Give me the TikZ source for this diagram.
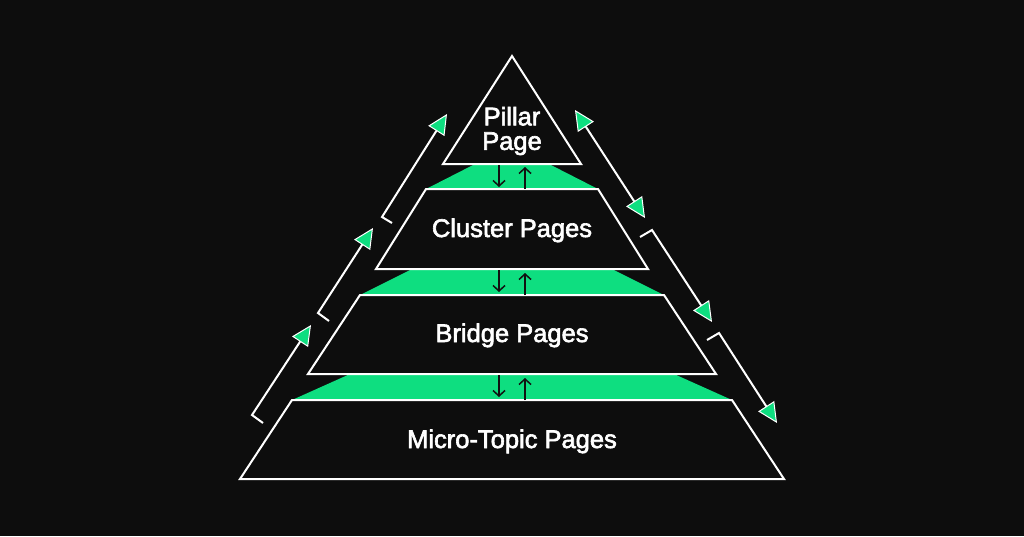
\documentclass[tikz,border=0pt]{standalone}
\usepackage{fontspec}
\setmainfont{Liberation Sans}[FakeBold=2.4]
\usetikzlibrary{arrows.meta}
\definecolor{bg}{RGB}{13,13,13}
\definecolor{grn}{RGB}{14,222,128}
\definecolor{ink}{RGB}{17,17,17}
\tikzset{gtip/.tip={Triangle[length=20pt,width=19pt,fill=grn,line width=1pt]}}
\begin{document}
\begin{tikzpicture}[x=1pt,y=-1pt,
  layer/.style={draw=white,line width=2pt,fill=bg,line join=miter},
  band/.style={fill=grn},
  lbl/.style={text=white,font=\fontsize{25.5}{24.5}\selectfont,align=center,inner sep=0pt},
  flow/.style={draw=white,line width=2pt,line join=miter},
  link/.style={draw=ink,line width=1.5pt,-{Straight Barb[length=5.5pt,width=12pt]}}]
\fill[bg] (0,0) rectangle (1024,536);
\useasboundingbox (0,0) rectangle (1024,536);
% green bands
\fill[band] (475,164) -- (549,164) -- (598,189) -- (426,189) -- cycle;
\fill[band] (412,269) -- (612,269) -- (664,295) -- (360,295) -- cycle;
\fill[band] (350,374) -- (674,374) -- (732,400) -- (292,400) -- cycle;
% layers
\draw[layer] (512,56) -- (581,164) -- (443,164) -- cycle;
\draw[layer] (426,189) -- (598,189) -- (648,269) -- (376,269) -- cycle;
\draw[layer] (360,295) -- (664,295) -- (716,374) -- (308,374) -- cycle;
\draw[layer] (292,400) -- (732,400) -- (784,479) -- (240,479) -- cycle;
% labels
\node[lbl] (pillar) at (512,131) {Pillar\\Page};
\node[lbl,anchor=base] (cluster) at (512,237) {Cluster Pages};
\node[lbl,anchor=base] (bridge) at (512,342) {Bridge Pages};
\node[lbl,anchor=base] (micro) at (512,448) {Micro-Topic Pages};
% band arrows
\coordinate (d1a) at (499,165); \coordinate (d1b) at (499,187);
\coordinate (u1a) at (525,189); \coordinate (u1b) at (525,167);
\coordinate (d2a) at (499,270); \coordinate (d2b) at (499,292);
\coordinate (u2a) at (525,295); \coordinate (u2b) at (525,273);
\coordinate (d3a) at (499,375); \coordinate (d3b) at (499,397);
\coordinate (u3a) at (525,400); \coordinate (u3b) at (525,378);
\draw[link] (d1a) -- (d1b);
\draw[link] (u1a) -- (u1b);
\draw[link] (d2a) -- (d2b);
\draw[link] (u2a) -- (u2b);
\draw[link] (d3a) -- (d3b);
\draw[link] (u3a) -- (u3b);
% left flow arrows
\coordinate (l1h) at (392,223); \coordinate (l1c) at (382,217); \coordinate (l1t) at (447,114);
\coordinate (l2h) at (329,321); \coordinate (l2c) at (318,313); \coordinate (l2t) at (373,228);
\coordinate (l3h) at (263,423); \coordinate (l3c) at (252,415); \coordinate (l3t) at (311,325);
\draw[flow,-{gtip}] (l1h) -- (l1c) -- (l1t);
\draw[flow,-{gtip}] (l2h) -- (l2c) -- (l2t);
\draw[flow,-{gtip}] (l3h) -- (l3c) -- (l3t);
% right flow arrows
\coordinate (r1a) at (575,110); \coordinate (r1b) at (645,218);
\coordinate (r2h) at (640,237); \coordinate (r2c) at (652,230); \coordinate (r2t) at (712,322);
\coordinate (r3h) at (707,340); \coordinate (r3c) at (719,333); \coordinate (r3t) at (777,423);
\draw[flow,{gtip}-{gtip}] (r1a) -- (r1b);
\draw[flow,-{gtip}] (r2h) -- (r2c) -- (r2t);
\draw[flow,-{gtip}] (r3h) -- (r3c) -- (r3t);
\end{tikzpicture}
\end{document}
